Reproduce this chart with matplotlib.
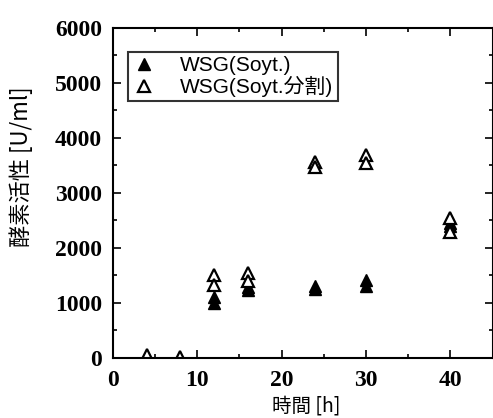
import matplotlib
matplotlib.use("Agg")
import matplotlib.pyplot as plt
from matplotlib.ticker import MultipleLocator

# Data
x_filled = [4, 12, 12, 16, 16, 24, 24, 30, 30, 40, 40]
y_filled = [0, 1100, 1000, 1280, 1230, 1300, 1250, 1420, 1310, 2450, 2400]
x_hollow = [4, 8, 12, 12, 16, 16, 24, 24, 30, 30, 40, 40]
y_hollow = [50, 20, 1510, 1330, 1540, 1400, 3560, 3480, 3690, 3550, 2550, 2290]
label_filled = "WSG(Soyt.)"
label_hollow = "WSG(Soyt.分割)"
xlabel = "時間 [h]"
ylabel = "酵素活性 [U/ml]"

fig = plt.figure(figsize=(4.93, 4.18), dpi=100)
ax = fig.add_axes([0.229, 0.144, 0.77, 0.789])

ax.plot(x_filled, y_filled, linestyle="none", marker="^", markersize=9,
        color="black", markeredgecolor="black", label=label_filled)
ax.plot(x_hollow, y_hollow, linestyle="none", marker="^", markersize=9,
        markerfacecolor="white", markeredgecolor="black", markeredgewidth=1.6,
        label=label_hollow)

ax.set_xlim(0, 45)
ax.set_ylim(0, 6000)
ax.xaxis.set_major_locator(MultipleLocator(10))
ax.xaxis.set_minor_locator(MultipleLocator(5))
ax.yaxis.set_major_locator(MultipleLocator(1000))
ax.yaxis.set_minor_locator(MultipleLocator(500))
ax.tick_params(which="both", direction="in", top=True, right=True, width=1.2)
ax.tick_params(which="major", length=6)
ax.tick_params(which="minor", length=3)
ax.tick_params(axis="y", which="major", labelsize=17, pad=8)
ax.tick_params(axis="x", which="major", labelsize=17, pad=9)
for lab in ax.get_xticklabels() + ax.get_yticklabels():
    lab.set_fontfamily("Liberation Serif")
    lab.set_fontweight("bold")
for s in ax.spines.values():
    s.set_linewidth(1.5)

cjk = ["Noto Sans CJK JP", "DejaVu Sans"]
ax.set_xlabel(xlabel, family=cjk, fontsize=14)
ax.set_ylabel(ylabel, family=cjk, fontsize=16)
ax.xaxis.set_label_coords(0.508, -0.115)
ax.yaxis.set_label_coords(-0.21, 0.58)

leg = ax.legend(loc="upper left", bbox_to_anchor=(0.04, 0.927), frameon=True,
                fancybox=False, edgecolor="black", handlelength=1.1,
                handletextpad=1.2, borderpad=0.2, labelspacing=0.05,
                borderaxespad=0,
                prop={"family": ["Liberation Sans", "Noto Sans CJK JP"], "size": 15})
leg.get_frame().set_linewidth(1.5)

fig.savefig("out.png", dpi=100)
